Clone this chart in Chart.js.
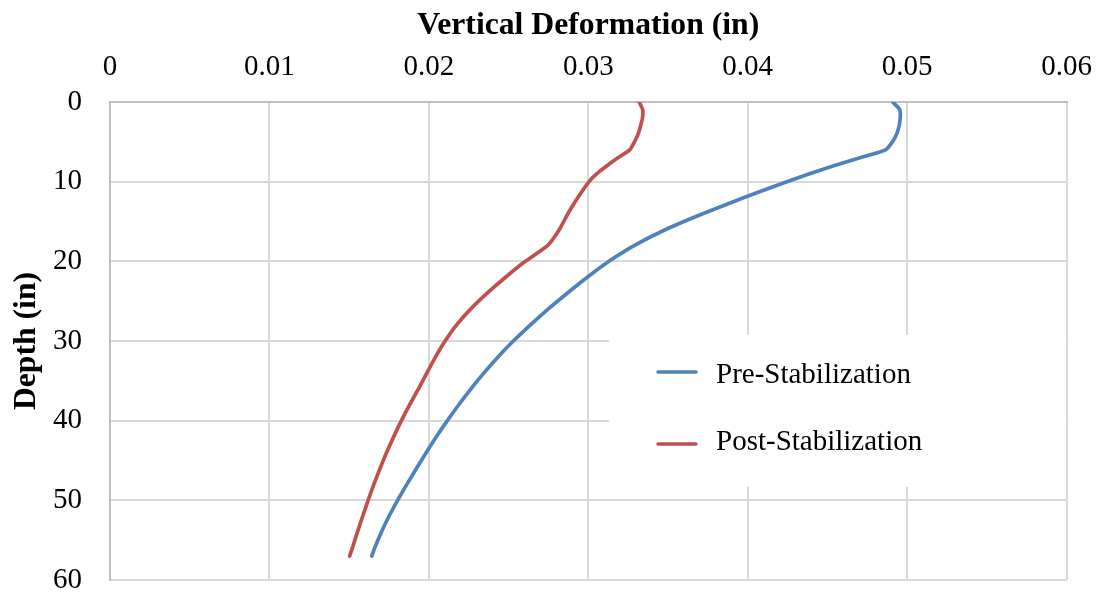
<!DOCTYPE html>
<html>
<head>
<meta charset="utf-8">
<script src="https://cdn.jsdelivr.net/npm/chart.js@4/dist/chart.umd.min.js"></script>
<style>
  html, body { margin: 0; padding: 0; background: #ffffff; }
  canvas { display: block; }
</style>
</head>
<body>
<canvas id="chart" width="1097" height="593"></canvas>
<script>
// Depth below surface (in) at which deformation was computed
const depthIn = [0, 1, 2, 3, 4, 5, 6, 7, 8, 9, 10, 12, 14, 16, 18, 20, 22, 24, 26, 28, 30, 32, 34, 36, 38, 40, 42, 44, 46, 48, 50, 52, 54, 56, 57];

// Vertical deformation (in) before stabilization
const preStabilization = [0.04910, 0.04955, 0.04957, 0.04950, 0.04935, 0.04908, 0.04865, 0.04705, 0.04540, 0.04388, 0.04246,
  0.03978, 0.03722, 0.03486, 0.03290, 0.03130, 0.02994, 0.02868, 0.02748, 0.02636, 0.02530, 0.02434, 0.02346, 0.02264,
  0.02188, 0.02116, 0.02048, 0.01984, 0.01922, 0.01862, 0.01804, 0.01750, 0.01702, 0.01660, 0.01642];

// Vertical deformation (in) after stabilization
const postStabilization = [0.03320, 0.03342, 0.03340, 0.03328, 0.03313, 0.03290, 0.03260, 0.03186, 0.03117, 0.03054, 0.03005,
  0.02935, 0.02873, 0.02819, 0.02746, 0.02605, 0.02481, 0.02366, 0.02262, 0.02173, 0.02102, 0.02042, 0.01988, 0.01935,
  0.01880, 0.01828, 0.01780, 0.01735, 0.01694, 0.01655, 0.01619, 0.01585, 0.01552, 0.01520, 0.01503];

const seriesNames = ['Pre-Stabilization', 'Post-Stabilization'];
const seriesColors = ['#4F81BD', '#C0504D'];

const deformationTicks = [0, 0.01, 0.02, 0.03, 0.04, 0.05, 0.06];
const depthTicks = [0, 10, 20, 30, 40, 50, 60];

const FONT = "'Liberation Serif', 'Times New Roman', serif";
const GRID = '#D9D9D9';
const AXIS = '#BFBFBF';

const toPoints = values => values.map((v, i) => ({ x: v, y: depthIn[i] }));

// Legend drawn inside the plot on a white panel that hides the grid behind it
const insideLegend = {
  id: 'insideLegend',
  beforeDatasetsDraw(chart) {
    const { ctx, chartArea: a } = chart;
    const w = a.right - a.left, h = a.bottom - a.top;
    const left = a.left + 0.5217 * w;
    ctx.save();
    ctx.fillStyle = '#ffffff';
    ctx.fillRect(left, a.top + 0.487 * h, a.right - 1 - left, 0.318 * h);
    ctx.restore();
  },
  afterDatasetsDraw(chart) {
    const { ctx } = chart;
    const lineY = [372, 444];
    const textY = [383, 450];
    ctx.save();
    ctx.font = '29px ' + FONT;
    ctx.textAlign = 'left';
    ctx.textBaseline = 'alphabetic';
    chart.data.datasets.forEach((ds, i) => {
      ctx.strokeStyle = ds.borderColor;
      ctx.lineWidth = 3.5;
      ctx.lineCap = 'round';
      ctx.beginPath();
      ctx.moveTo(658, lineY[i]);
      ctx.lineTo(696, lineY[i]);
      ctx.stroke();
      ctx.fillStyle = '#000000';
      ctx.fillText(ds.label, 716, textY[i]);
    });
    ctx.restore();
  }
};

new Chart(document.getElementById('chart'), {
  type: 'line',
  data: {
    datasets: [
      { label: seriesNames[0], data: toPoints(preStabilization), borderColor: seriesColors[0] },
      { label: seriesNames[1], data: toPoints(postStabilization), borderColor: seriesColors[1] }
    ]
  },
  options: {
    responsive: false,
    animation: false,
    devicePixelRatio: 1,
    layout: { padding: { top: 0, left: 0, right: 30.5, bottom: 13 } },
    elements: {
      line: { borderWidth: 3.7, tension: 0.2, borderCapStyle: 'round', borderJoinStyle: 'round', fill: false },
      point: { radius: 0, hoverRadius: 0 }
    },
    plugins: {
      legend: { display: false },
      tooltip: { enabled: false }
    },
    scales: {
      x: {
        type: 'linear',
        position: 'top',
        min: 0,
        max: 0.06,
        afterBuildTicks: s => { s.ticks = deformationTicks.map(v => ({ value: v })); },
        afterFit: s => { s.height = 102; s.paddingLeft = 0; s.paddingRight = 0; },
        ticks: {
          color: '#000000',
          font: { family: FONT, size: 29 },
          padding: 17,
          maxRotation: 0,
          callback: v => String(Number(v.toFixed(2)))
        },
        grid: { color: GRID, lineWidth: 2, drawTicks: false },
        border: { color: AXIS, width: 2 },
        title: {
          display: true,
          text: 'Vertical Deformation (in)',
          color: '#000000',
          font: { family: FONT, size: 31.7, weight: 'bold' },
          padding: { top: 7, bottom: 0 }
        }
      },
      y: {
        type: 'linear',
        reverse: true,
        min: 0,
        max: 60,
        afterBuildTicks: s => { s.ticks = depthTicks.map(v => ({ value: v })); },
        afterFit: s => { s.width = 110; s.paddingTop = 0; s.paddingBottom = 0; },
        ticks: {
          color: '#000000',
          font: { family: FONT, size: 29 },
          padding: 28
        },
        grid: { color: GRID, lineWidth: 2, drawTicks: false },
        border: { color: AXIS, width: 2 },
        title: {
          display: true,
          text: 'Depth (in)',
          color: '#000000',
          font: { family: FONT, size: 31.7, weight: 'bold' },
          padding: { top: 8, bottom: 0 }
        }
      }
    }
  },
  plugins: [insideLegend]
});
</script>
</body>
</html>
